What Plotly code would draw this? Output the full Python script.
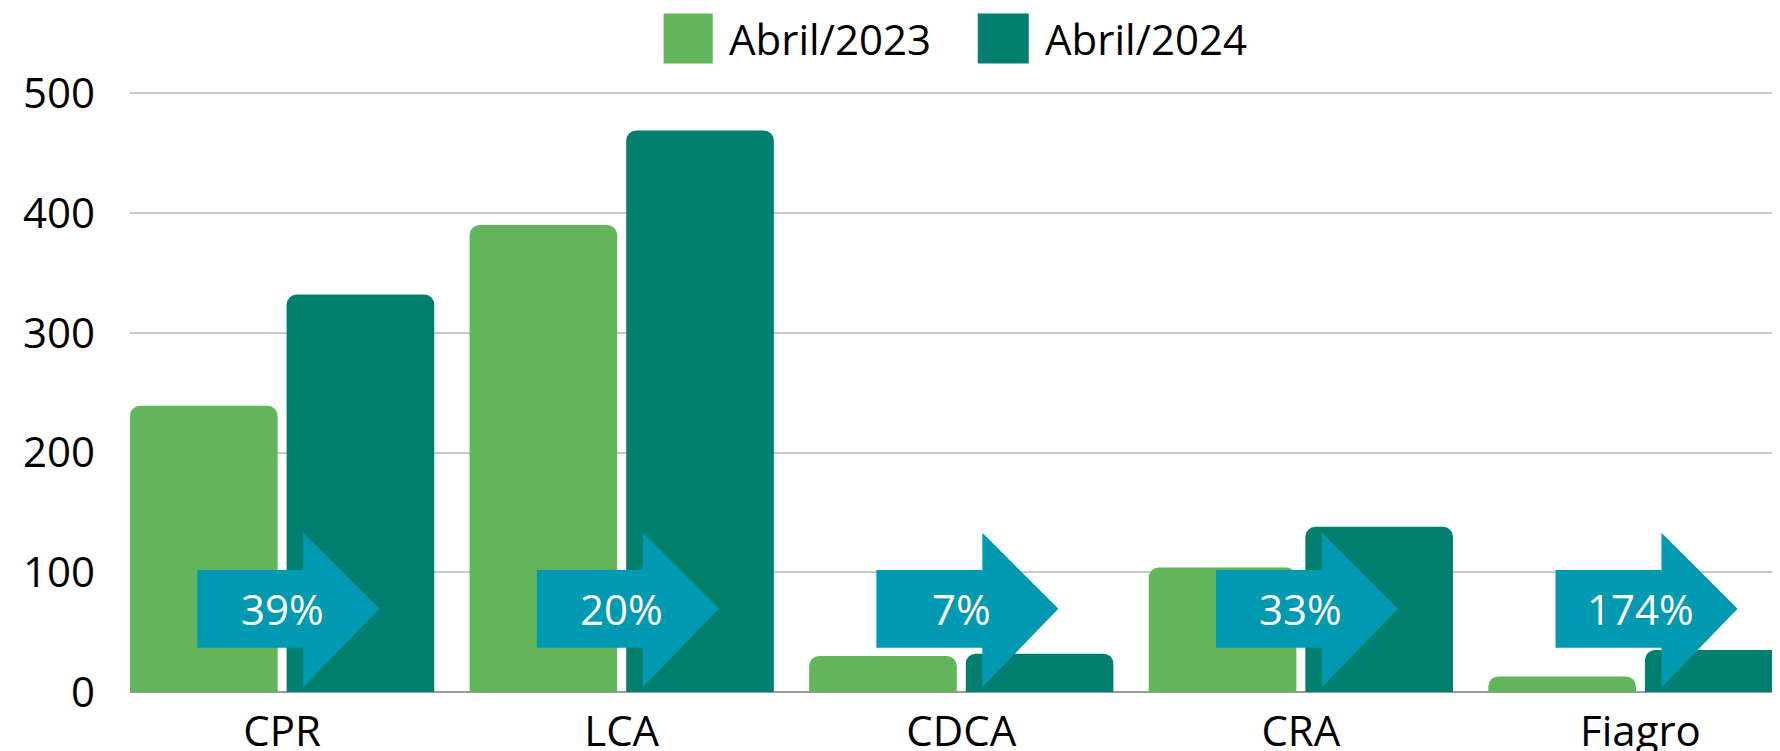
import plotly.graph_objects as go

categories = ['CPR', 'LCA', 'CDCA', 'CRA', 'Fiagro']
abril_2023 = [239, 390, 30, 104, 13]
abril_2024 = [332, 469, 32, 138, 35]
growth = ['39%', '20%', '7%', '33%', '174%']
series_names = ['Abril/2023', 'Abril/2024']
y_ticks = [0, 100, 200, 300, 400, 500]

LIGHT = '#62B55B'
DARK = '#007F6E'
ARROW = '#0099B2'
FONT = 'Open Sans'
FS = 42

x_idx = list(range(len(categories)))

fig = go.Figure()
fig.add_trace(go.Bar(x=x_idx, y=abril_2023, name=series_names[0],
                     marker=dict(color=LIGHT, cornerradius=10, line=dict(width=0))))
fig.add_trace(go.Bar(x=x_idx, y=abril_2024, name=series_names[1],
                     marker=dict(color=DARK, cornerradius=10, line=dict(width=0))))

# arrow geometry (category units / y units)
a_start, a_neck, a_tip = -0.25, 0.062, 0.286
b_low, b_high, h_low, h_high = 37, 102, 4, 133
mid = (b_low + b_high) / 2

for i, txt in zip(x_idx, growth):
    path = (f'M {i + a_start} {b_low} L {i + a_neck} {b_low} L {i + a_neck} {h_low} '
            f'L {i + a_tip} {mid} L {i + a_neck} {h_high} L {i + a_neck} {b_high} '
            f'L {i + a_start} {b_high} Z')
    fig.add_shape(type='path', path=path, xref='x', yref='y',
                  fillcolor=ARROW, line=dict(width=0), layer='above')
    fig.add_annotation(x=i, y=mid, xref='x', yref='y', text=txt, showarrow=False,
                       font=dict(family=FONT, size=FS, color='white'))

# custom legend with large swatches
legend_items = [(0.3234, 0.3532, 0.3620, LIGHT), (0.5138, 0.5447, 0.5535, DARK)]
for name, (x0, x1, xt, col) in zip(series_names, legend_items):
    fig.add_shape(type='rect', xref='paper', yref='paper', x0=x0, x1=x1,
                  y0=1.0456, y1=1.129, fillcolor=col, line=dict(width=0))
    fig.add_annotation(x=xt, y=1.0874, xref='paper', yref='paper', text=name,
                       showarrow=False, xanchor='left', yanchor='middle',
                       font=dict(family=FONT, size=FS, color='black'))

fig.update_layout(
    width=1772, height=743,
    margin=dict(l=122, r=0, t=83, b=59, pad=0),
    plot_bgcolor='white', paper_bgcolor='white',
    barmode='group', bargap=0.0775, bargroupgap=0.0575,
    showlegend=False,
    font=dict(family=FONT, size=FS, color='black'),
    xaxis=dict(range=[-0.448, 4.411], tickmode='array', tickvals=x_idx,
               ticktext=categories, showgrid=False, zeroline=False,
               showline=False, ticks='', ticklabelstandoff=11, automargin=False),
    yaxis=dict(range=[0, 502], tickmode='array', tickvals=y_ticks,
               showgrid=True, gridcolor='#C8C8C8', gridwidth=1.5,
               zeroline=True, zerolinecolor='#9A9A9A', zerolinewidth=2,
               showline=False, ticks='', ticklabelstandoff=34, automargin=False),
)

fig.write_html("out.html")
